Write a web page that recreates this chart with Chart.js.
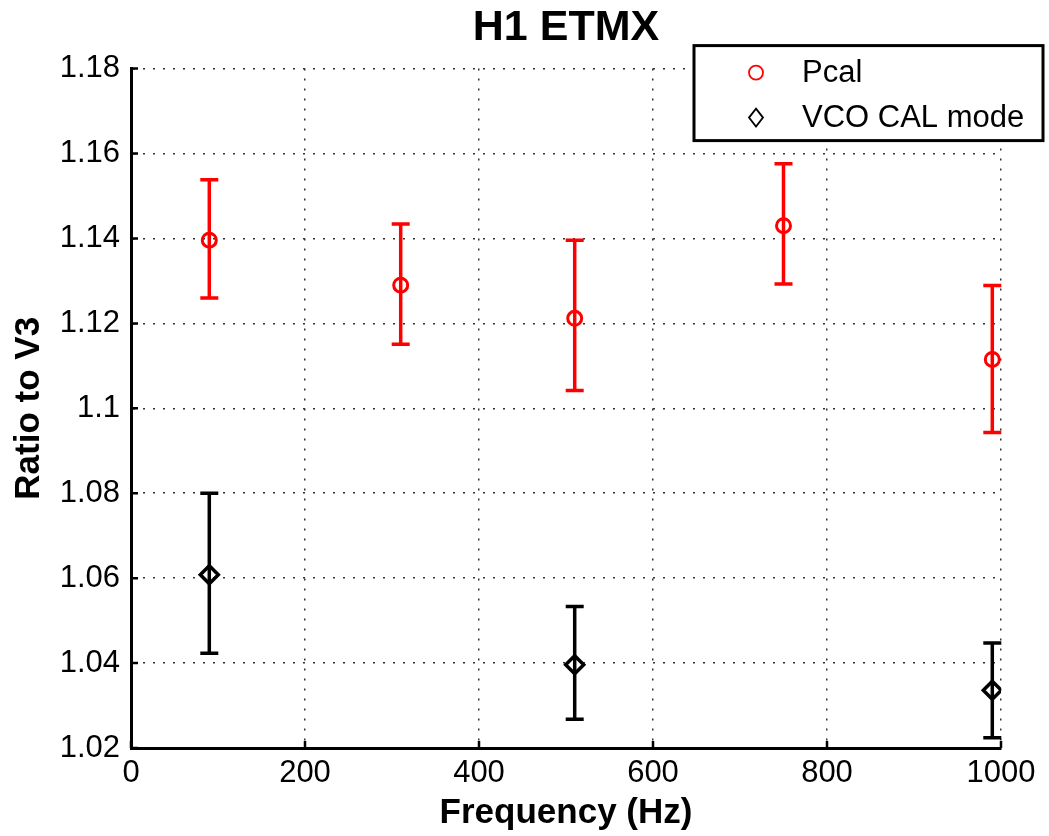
<!DOCTYPE html>
<html>
<head>
<meta charset="utf-8">
<script src="https://cdn.jsdelivr.net/npm/chart.js@4.4.1/dist/chart.umd.min.js"></script>
<style>
  html, body { margin: 0; padding: 0; background: #ffffff; }
  #wrap { width: 1049px; height: 836px; }
</style>
</head>
<body>
<div id="wrap"><canvas id="c" width="1049" height="836"></canvas></div>
<script>
// ---- data ----
const pcalFreq  = [90, 310, 510, 750, 990];
const pcalRatio = [1.1396, 1.1290, 1.1212, 1.1430, 1.1115];
const pcalLow   = [1.1260, 1.1151, 1.1042, 1.1293, 1.0943];
const pcalHigh  = [1.1538, 1.1434, 1.1396, 1.1576, 1.1289];

const vcoFreq  = [90, 510, 990];
const vcoRatio = [1.0608, 1.0396, 1.0336];
const vcoLow   = [1.0423, 1.0268, 1.0224];
const vcoHigh  = [1.0800, 1.0533, 1.0447];

const xTickValues = [0, 200, 400, 600, 800, 1000];
const xTickLabels = ['0', '200', '400', '600', '800', '1000'];
const yTickValues = [1.02, 1.04, 1.06, 1.08, 1.10, 1.12, 1.14, 1.16, 1.18];
const yTickLabels = ['1.02', '1.04', '1.06', '1.08', '1.1', '1.12', '1.14', '1.16', '1.18'];

const seriesLabels = ['Pcal', 'VCO CAL mode'];
const FONT = "'Liberation Sans', Arial, Helvetica, sans-serif";

const errorData = [
  { low: pcalLow, high: pcalHigh },
  { low: vcoLow, high: vcoHigh }
];

// error bars drawn through the chart's own scales
const errorBarPlugin = {
  id: 'errorBars',
  afterLayout(chart) {
    // centre the title over the plot area
    if (chart.titleBlock) {
      chart.titleBlock.left = chart.chartArea.left;
      chart.titleBlock.right = chart.chartArea.right;
    }
  },
  beforeDatasetsDraw(chart) {
    const ctx = chart.ctx;
    const xs = chart.scales.x, ys = chart.scales.y;
    chart.data.datasets.forEach((ds, di) => {
      const err = errorData[di];
      ctx.save();
      ctx.strokeStyle = ds.borderColor;
      ctx.lineWidth = 3.5;
      ds.data.forEach((pt, i) => {
        const x = xs.getPixelForValue(pt.x);
        const yl = ys.getPixelForValue(err.low[i]);
        const yh = ys.getPixelForValue(err.high[i]);
        const cap = 9;
        ctx.beginPath();
        ctx.moveTo(x, yl); ctx.lineTo(x, yh);
        ctx.moveTo(x - cap, yl); ctx.lineTo(x + cap, yl);
        ctx.moveTo(x - cap, yh); ctx.lineTo(x + cap, yh);
        ctx.stroke();
      });
      ctx.restore();
    });
  },
  afterDraw(chart) {
    const ctx = chart.ctx;
    const ca = chart.chartArea;
    const xs = chart.scales.x, ys = chart.scales.y;
    // inward tick marks
    ctx.save();
    ctx.strokeStyle = '#000';
    ctx.lineWidth = 2.5;
    ctx.beginPath();
    ys.ticks.forEach(t => {
      const y = ys.getPixelForValue(t.value);
      ctx.moveTo(ca.left, y); ctx.lineTo(ca.left + 7, y);
    });
    xs.ticks.forEach(t => {
      const x = xs.getPixelForValue(t.value);
      ctx.moveTo(x, ca.bottom); ctx.lineTo(x, ca.bottom - 7);
    });
    ctx.stroke();
    ctx.restore();

    // legend box
    const bw = 349, bh = 95;
    const bx = chart.width - 6 - bw;
    const by = ca.top - 23;
    ctx.save();
    ctx.fillStyle = '#fff';
    ctx.fillRect(bx, by, bw, bh);
    ctx.strokeStyle = '#000';
    ctx.lineWidth = 3;
    ctx.strokeRect(bx, by, bw, bh);
    const rows = [by + 27, by + 72];
    chart.data.datasets.forEach((ds, i) => {
      const mx = bx + 62, my = rows[i];
      ctx.strokeStyle = ds.borderColor;
      ctx.lineWidth = 1.8;
      ctx.beginPath();
      if (ds.pointStyle === 'circle') {
        ctx.arc(mx, my, 7, 0, Math.PI * 2);
      } else {
        ctx.moveTo(mx, my - 9); ctx.lineTo(mx + 7, my);
        ctx.lineTo(mx, my + 9); ctx.lineTo(mx - 7, my); ctx.closePath();
      }
      ctx.stroke();
      ctx.fillStyle = '#000';
      ctx.font = '31px ' + FONT;
      ctx.textAlign = 'left';
      ctx.textBaseline = 'middle';
      ctx.fillText(ds.label, bx + 108, my + 1);
    });
    ctx.restore();
  }
};

const chart = new Chart(document.getElementById('c'), {
  type: 'scatter',
  data: {
    datasets: [
      {
        label: seriesLabels[0],
        data: pcalFreq.map((f, i) => ({ x: f, y: pcalRatio[i] })),
        borderColor: '#ff0000',
        backgroundColor: 'rgba(0,0,0,0)',
        pointStyle: 'circle',
        pointRadius: 7,
        pointBorderWidth: 3,
        showLine: false
      },
      {
        label: seriesLabels[1],
        data: vcoFreq.map((f, i) => ({ x: f, y: vcoRatio[i] })),
        borderColor: '#000000',
        backgroundColor: 'rgba(0,0,0,0)',
        pointStyle: 'rectRot',
        pointRadius: 9,
        pointBorderWidth: 3.5,
        showLine: false
      }
    ]
  },
  options: {
    responsive: false,
    animation: false,
    layout: { padding: { left: 0, right: 48, top: 0, bottom: 0 } },
    plugins: {
      legend: { display: false },
      tooltip: { enabled: false },
      title: {
        display: true,
        text: 'H1 ETMX',
        color: '#000',
        font: { family: FONT, size: 43, weight: 'bold', lineHeight: 1.2 },
        padding: { top: 2, bottom: 15 }
      }
    },
    scales: {
      x: {
        type: 'linear',
        min: 0, max: 1000,
        afterBuildTicks: s => { s.ticks = xTickValues.map(v => ({ value: v })); },
        afterFit: s => { s.height = 88; },
        ticks: {
          color: '#000',
          font: { family: FONT, size: 31 },
          padding: 7,
          maxRotation: 0,
          callback: (v, i) => xTickLabels[i]
        },
        grid: { color: '#333', lineWidth: 1.5, drawTicks: false },
        border: { display: true, color: '#000', width: 3, dash: [2, 8] },
        title: {
          display: true,
          text: 'Frequency (Hz)',
          color: '#000',
          font: { family: FONT, size: 35, weight: 'bold', lineHeight: 1.2 },
          padding: { top: 0, bottom: 2 }
        }
      },
      y: {
        type: 'linear',
        min: 1.02, max: 1.18,
        afterBuildTicks: s => { s.ticks = yTickValues.map(v => ({ value: v })); },
        afterFit: s => { s.width = 131; },
        ticks: {
          color: '#000',
          font: { family: FONT, size: 31 },
          padding: 11,
          callback: (v, i) => yTickLabels[i]
        },
        grid: { color: '#333', lineWidth: 1.5, drawTicks: false },
        border: { display: true, color: '#000', width: 3, dash: [2, 8] },
        title: {
          display: true,
          text: 'Ratio to V3',
          color: '#000',
          font: { family: FONT, size: 35, weight: 'bold', lineHeight: 1.2 },
          padding: { top: 8, bottom: 0 }
        }
      }
    }
  },
  plugins: [errorBarPlugin]
});
</script>
</body>
</html>
